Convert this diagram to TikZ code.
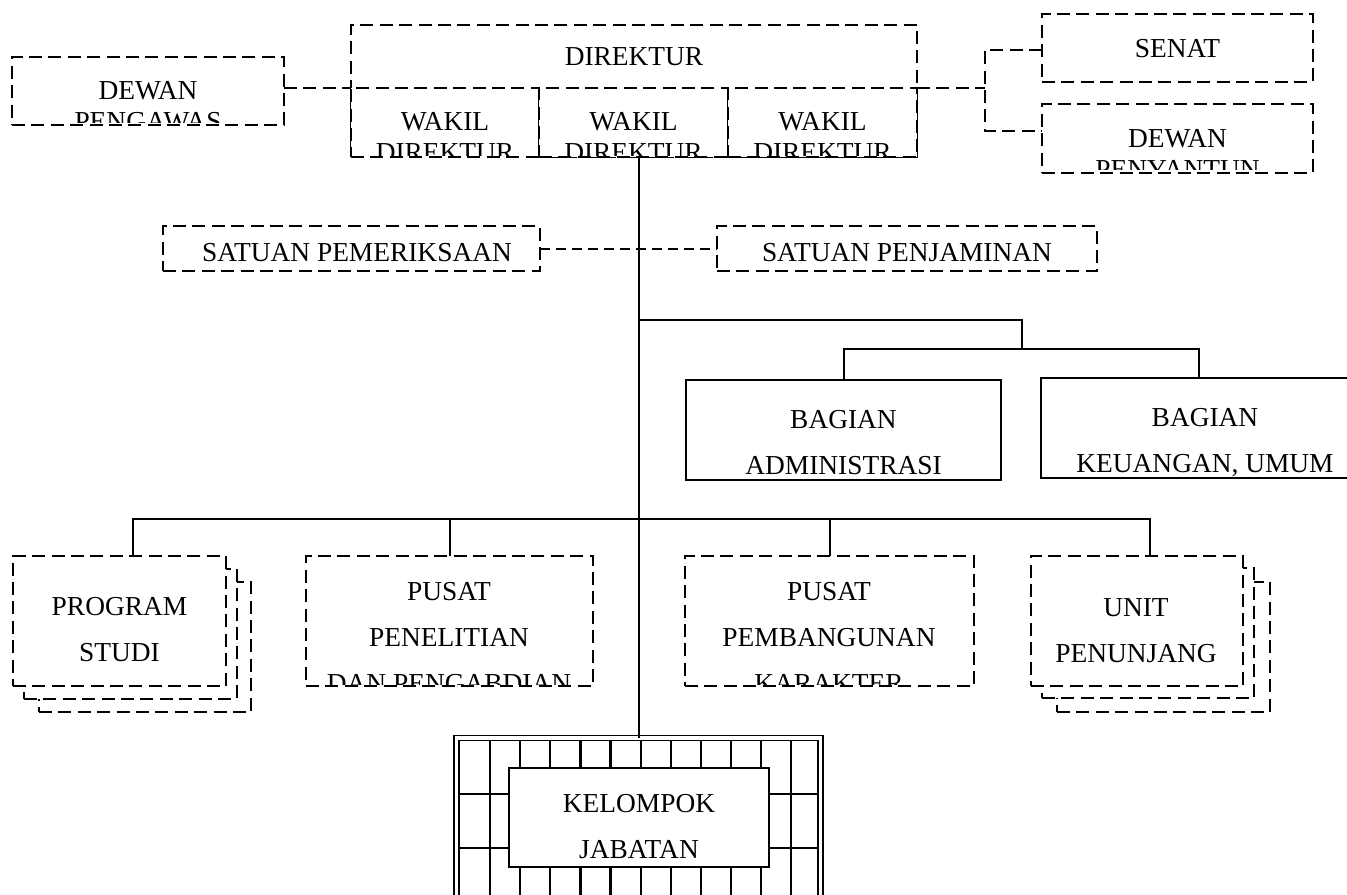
\documentclass[tikz,border=0pt]{standalone}
\usepackage{fontspec}
\setmainfont{Liberation Serif}

\begin{document}
\begin{tikzpicture}[x=0.5pt,y=-0.5pt,
    box/.style={draw, line width=1pt, outer sep=0pt, inner sep=0pt, fill=white},
    dbox/.style={box, dash pattern=on 6.5pt off 3.2pt},
    dline/.style={line width=1pt, dash pattern=on 6.5pt off 3.2pt},
    dlinek/.style={line width=1pt, dash pattern=on 5pt off 3pt},
    sline/.style={line width=1pt},
    gline/.style={line width=1.1pt},
    txt/.style={font=\fontsize{13.7pt}{23pt}\selectfont, align=center, anchor=base, inner sep=0pt},
    txtk/.style={txt, font=\fontsize{13.7pt}{15.5pt}\selectfont}]

  \useasboundingbox (0,0) rectangle (1347,894);
  \clip (0,0) rectangle (1347,894);

  % Kopfbereich: Direktur mit Wakil Direktur
  \node[dbox, minimum width=136pt, minimum height=34pt] (pengawas) at (148,91) {};
  \node[dbox, minimum width=283pt, minimum height=66pt] (direktur) at (634,91) {};
  \node[dbox, minimum width=94pt, minimum height=34.5pt] (wakilA) at (445,122.5) {};
  \node[dbox, minimum width=94.5pt, minimum height=34.5pt] (wakilB) at (633.5,122.5) {};
  \node[dbox, minimum width=94.5pt, minimum height=34.5pt] (wakilC) at (822.5,122.5) {};
  \node[dbox, minimum width=135.5pt, minimum height=34pt] (senat) at (1177.5,48) {};
  \node[dbox, minimum width=135.5pt, minimum height=34.5pt] (penyantun) at (1177.5,138.5) {};

  \node[txt] (tdirektur) at (634,65) {DIREKTUR};
  \node[txt] (tsenat) at (1177.5,57) {SENAT};

  % abgeschnittene Texte (Textfeld zu klein), Basis = letzte Zeile
  \begin{scope}
    \clip (pengawas.north west) rectangle ([yshift=1.5pt]pengawas.south east);
    \node[txtk] (tpengawas) at (148,130) {DEWAN\\PENGAWAS};
  \end{scope}
  \begin{scope}
    \clip (wakilA.north west) rectangle ([yshift=1pt]wakilC.south east);
    \node[txtk] (twakilA) at (445,161) {WAKIL\\DIREKTUR};
    \node[txtk] (twakilB) at (633.5,161) {WAKIL\\DIREKTUR};
    \node[txtk] (twakilC) at (822.5,161) {WAKIL\\DIREKTUR};
  \end{scope}
  \begin{scope}
    \clip (penyantun.north west) rectangle ([yshift=2pt]penyantun.south east);
    \node[txtk] (tpenyantun) at (1177.5,178) {DEWAN\\PENYANTUN};
  \end{scope}

  % Satuan
  \node[dbox, minimum width=188.5pt, minimum height=22.5pt] (pemeriksaan) at (351.5,248.5) {};
  \node[dbox, minimum width=190pt, minimum height=22.5pt] (penjaminan) at (907,248.5) {};
  \node[txt] (tpemeriksaan) at (357,261) {SATUAN PEMERIKSAAN};
  \node[txt] (tpenjaminan) at (907,261) {SATUAN PENJAMINAN};

  % Bagian
  \node[box, minimum width=157.5pt, minimum height=50pt] (admin) at (843.5,430) {};
  \node[box, minimum width=158pt, minimum height=50pt] (keuangan) at (1199,428) {};
  \node[txt] (tadmin) at (843.5,474) {BAGIAN\\ADMINISTRASI};
  \node[txt] (tkeuangan) at (1205,472) {BAGIAN\\KEUANGAN, UMUM};

  % untere Ebene (Stapel fuer Program Studi und Unit)
  \node[dbox, minimum width=106pt, minimum height=65pt] (prodiC) at (145,647) {};
  \node[dbox, minimum width=106.5pt, minimum height=65pt] (prodiB) at (130.5,633.5) {};
  \node[dbox, minimum width=106.5pt, minimum height=65pt] (prodi) at (119.5,621) {};
  \node[dbox, minimum width=143.5pt, minimum height=65pt] (penelitian) at (449.5,621) {};
  \node[dbox, minimum width=144.5pt, minimum height=65pt] (pembangunan) at (829.5,621) {};
  \node[dbox, minimum width=106.5pt, minimum height=65pt] (unitC) at (1163.5,647) {};
  \node[dbox, minimum width=106pt, minimum height=65pt] (unitB) at (1148,633) {};
  \node[dbox, minimum width=106pt, minimum height=65pt] (unit) at (1137,621) {};

  \node[txt] (tprodi) at (119.5,661) {PROGRAM\\STUDI};
  \node[txt] (tunit) at (1136,662) {UNIT\\PENUNJANG};
  \begin{scope}
    \clip (penelitian.north west) rectangle ([yshift=1pt]pembangunan.south east);
    \node[txt] (tpenelitian) at (449,692) {PUSAT\\PENELITIAN\\DAN PENGABDIAN};
    \node[txt] (tpembangunan) at (829,692) {PUSAT\\PEMBANGUNAN\\KARAKTER};
  \end{scope}

  % Kelompok Jabatan mit Gitter
  \foreach \i in {1,...,11}
    \draw[gline] ({460+30.1*\i},740) -- ({460+30.1*\i},910);
  \foreach \j in {794,848,902}
    \draw[gline] (459,\j) -- (818,\j);
  \node[draw, double, line width=0.8pt, double distance=1.7pt, outer sep=0pt, inner sep=0pt,
        minimum width=182pt, minimum height=87pt] (kelompok) at (638.5,825) {};
  \node[box, minimum width=130pt, minimum height=49.5pt] (jabatan) at (639,817.5) {};
  \node[txt] (tjabatan) at (639,858) {KELOMPOK\\JABATAN};

  % Verbindungslinien
  \coordinate (sep) at (985,88);
  \coordinate (bag) at (1022,349);
  \coordinate (rail1) at (0,320);
  \coordinate (rail) at (0,519);

  \draw[dline] (pengawas.east |- sep) -- (direktur.west |- sep);
  \draw[dline] (direktur.east |- sep) -- (sep);
  \draw[dline] ([yshift=-1pt]senat.west) -| (sep) |- ([yshift=3.75pt]penyantun.west);
  \draw[dlinek] (pemeriksaan.east) -- (penjaminan.west);

  \draw[sline] (kelompok.north |- wakilB.south) -- (kelompok.north);
  \draw[sline] (kelompok.north |- rail1) -| (bag);
  \draw[sline] (admin.north) |- (bag) -| (keuangan.north);
  \draw[sline] ([xshift=6.5pt]prodi.north) |- ([xshift=6.5pt]unit.north |- rail) -- ([xshift=6.5pt]unit.north);
  \draw[sline] (penelitian.north) -- (penelitian.north |- rail);
  \draw[sline] (pembangunan.north) -- (pembangunan.north |- rail);

\end{tikzpicture}
\end{document}
